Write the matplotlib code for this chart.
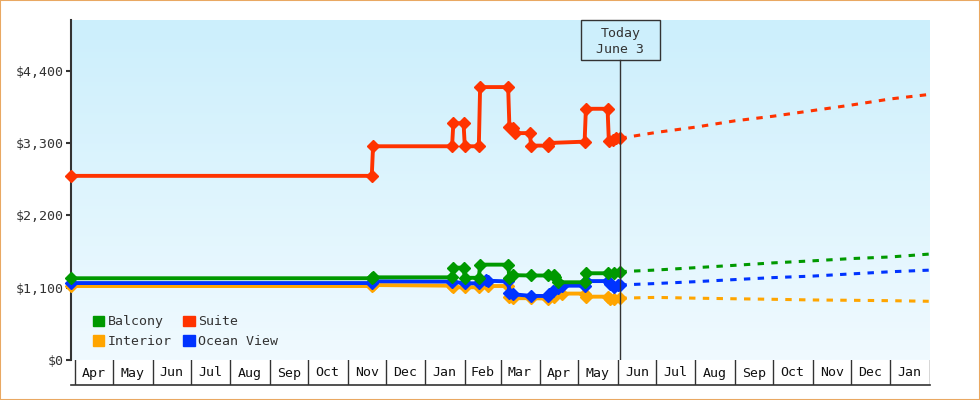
import numpy as np
import matplotlib
matplotlib.use("Agg")
import matplotlib.pyplot as plt
import matplotlib.dates as mdates
from matplotlib.patches import Patch, Rectangle
from matplotlib.transforms import blended_transform_factory

plt.rcParams['font.family'] = ['DejaVu Sans Mono', 'DejaVu Sans']

# --- price history (observed) ---
suite_dates = ['2013-03-29', '2013-11-20', '2013-11-21', '2014-01-22', '2014-01-23', '2014-01-31',
               '2014-02-01', '2014-02-12', '2014-02-13', '2014-03-07', '2014-03-08', '2014-03-11',
               '2014-03-12', '2014-03-24', '2014-03-25', '2014-04-07', '2014-04-08', '2014-05-06',
               '2014-05-07', '2014-05-24', '2014-05-25', '2014-05-28', '2014-05-31', '2014-06-03']
suite_price = [2800, 2800, 3250, 3250, 3600, 3600, 3250, 3250, 4150, 4150, 3540, 3525,
               3450, 3450, 3260, 3260, 3300, 3320, 3820, 3820, 3336, 3345, 3372, 3372]

balcony_dates = ['2013-03-29', '2013-11-20', '2013-11-21', '2014-01-22', '2014-01-23', '2014-01-31',
                 '2014-02-01', '2014-02-12', '2014-02-13', '2014-03-07', '2014-03-08', '2014-03-11',
                 '2014-03-25', '2014-04-07', '2014-04-12', '2014-04-13', '2014-04-15', '2014-05-06',
                 '2014-05-07', '2014-05-24', '2014-05-29', '2014-06-03']
balcony_price = [1243, 1243, 1257, 1257, 1404, 1404, 1250, 1250, 1450, 1450, 1245, 1290,
                 1285, 1285, 1293, 1267, 1182, 1182, 1319, 1319, 1328, 1343]

ocean_dates = ['2013-03-29', '2013-11-20', '2013-11-21', '2014-01-22', '2014-02-01', '2014-02-12',
               '2014-02-18', '2014-02-19', '2014-03-07', '2014-03-08', '2014-03-11', '2014-03-25',
               '2014-04-07', '2014-04-08', '2014-04-11', '2014-04-15', '2014-04-18', '2014-05-06',
               '2014-05-07', '2014-05-24', '2014-05-26', '2014-05-29', '2014-06-01', '2014-06-03']
ocean_price = [1170, 1170, 1197, 1192, 1166, 1166, 1222, 1205, 1195, 1014, 999, 975,
               973, 1004, 1050, 1100, 1130, 1130, 1200, 1200, 1160, 1115, 1141, 1141]

interior_dates = ['2013-03-29', '2013-11-20', '2013-11-21', '2014-01-22', '2014-01-23', '2014-02-01',
                  '2014-02-12', '2014-02-19', '2014-03-07', '2014-03-08', '2014-03-11', '2014-03-25',
                  '2014-04-07', '2014-04-12', '2014-04-18', '2014-05-06', '2014-05-07', '2014-05-24',
                  '2014-05-26', '2014-05-29', '2014-06-03']
interior_price = [1125, 1125, 1140, 1130, 1106, 1106, 1106, 1125, 1125, 963, 940, 940,
                  935, 963, 1010, 1010, 963, 963, 923, 930, 940]

# --- forecast ---
fc_dates = ['2014-06-03', '2014-07-01', '2014-08-01', '2014-09-01', '2014-10-01',
            '2014-11-01', '2014-12-01', '2015-01-01', '2015-01-31']
suite_fc = [3372, 3460, 3541, 3637, 3707, 3793, 3876, 3970, 4037]
balcony_fc = [1343, 1368, 1404, 1440, 1477, 1508, 1542, 1567, 1610]
ocean_fc = [1141, 1163, 1191, 1223, 1253, 1276, 1309, 1342, 1366]
interior_fc = [940, 952, 940, 931, 923, 913, 908, 902, 893]

today = np.datetime64('2014-06-03')
x_start = np.datetime64('2013-03-29')
x_end = np.datetime64('2015-02-01')
y_ticks = [0, 1100, 2200, 3300, 4400]
y_max = 5170

month_starts = np.arange(np.datetime64('2013-04'), np.datetime64('2015-03'), dtype='datetime64[M]')
month_names = ['Jan', 'Feb', 'Mar', 'Apr', 'May', 'Jun', 'Jul', 'Aug', 'Sep', 'Oct', 'Nov', 'Dec']

colors = {'Balcony': '#009900', 'Suite': '#ff3300', 'Interior': '#ffa500', 'Ocean View': '#0033ff'}
dark = '#333333'
fs = 9.5

fig = plt.figure(figsize=(9.8, 4.0), dpi=100)
W, H = 980.0, 400.0
ax = fig.add_axes([71 / W, 40 / H, 859 / W, 340 / H])
axm = fig.add_axes([71 / W, 15 / H, 859 / W, 25 / H], sharex=ax)

# gradient background
grad = np.linspace(0, 1, 256).reshape(-1, 1)
top = np.array([204, 239, 252]) / 255.0
bot = np.array([240, 250, 255]) / 255.0
img = top + (bot - top) * grad[:, :, None]
ax.imshow(img, extent=[0, 1, 0, 1], transform=ax.transAxes, aspect='auto', zorder=0)

series = [
    ('Interior', interior_dates, interior_price, interior_fc),
    ('Ocean View', ocean_dates, ocean_price, ocean_fc),
    ('Balcony', balcony_dates, balcony_price, balcony_fc),
    ('Suite', suite_dates, suite_price, suite_fc),
]
fcd = np.array(fc_dates, dtype='datetime64[D]')
for i, (name, d, p, fc) in enumerate(series):
    c = colors[name]
    ax.plot(np.array(d, dtype='datetime64[D]'), p, color=c, lw=2.8, marker='D', ms=6.3,
            mec=c, mfc=c, zorder=3 + i, clip_on=False, solid_joinstyle='miter')
    ax.plot(fcd, fc, color=c, lw=2.2, linestyle=(0, (2.1, 2.4)), zorder=3 + i)

ax.set_xlim(x_start, x_end)
ax.set_ylim(0, y_max)
ax.set_yticks(y_ticks)
ax.set_yticklabels(['${:,}'.format(v) for v in y_ticks])
ax.tick_params(axis='y', direction='out', length=3.6, width=1.5, color=dark,
               labelsize=fs, labelcolor=dark, pad=1.5)
ax.tick_params(axis='x', bottom=False, labelbottom=False)
for s in ['top', 'right', 'bottom']:
    ax.spines[s].set_visible(False)
ax.spines['left'].set_color(dark)
ax.spines['left'].set_linewidth(1.5)

# today marker
ax.axvline(today, ymin=0, ymax=(300 / 340), color=dark, lw=1, zorder=10)
tr = blended_transform_factory(ax.transData, ax.transAxes)
half = np.timedelta64(31, 'D')
ax.add_patch(Rectangle((mdates.date2num(today - half), 300 / 340),
                       mdates.date2num(today + half) - mdates.date2num(today - half), 40 / 340,
                       transform=tr, fill=False, ec=dark, lw=1, zorder=10, clip_on=False))
ax.text(today, (360 - 41.5) / 340, 'Today\nJune 3', transform=tr, ha='center', va='center',
        fontsize=fs, color=dark, linespacing=1.35, zorder=11)

# legend
handles = [Patch(color=colors[n]) for n in ['Balcony', 'Interior', 'Suite', 'Ocean View']]
ax.legend(handles, ['Balcony', 'Interior', 'Suite', 'Ocean View'], ncol=2, loc='lower left',
          bbox_to_anchor=(22 / 859, 12 / 340), frameon=False, fontsize=fs,
          handlelength=0.85, handleheight=0.85, handletextpad=0.25, columnspacing=0.9,
          labelspacing=0.5, borderpad=0, borderaxespad=0, labelcolor=dark)

# month boxes below the axis
for m in month_starts:
    axm.axvline(m.astype('datetime64[D]'), color=dark, lw=1)
for m0, m1 in zip(month_starts[:-1], month_starts[1:]):
    d0 = m0.astype('datetime64[D]')
    d1 = m1.astype('datetime64[D]')
    mid = d0 + (d1 - d0) / 2
    axm.text(mid, 0.48, month_names[int(m0.astype(int)) % 12], ha='center', va='center',
             fontsize=fs, color='#111111')
axm.set_ylim(0, 1)
axm.set_xlim(x_start, x_end)
for s in ['top', 'left', 'right']:
    axm.spines[s].set_visible(False)
axm.spines['bottom'].set_color(dark)
axm.spines['bottom'].set_linewidth(1.2)
axm.tick_params(bottom=False, left=False, labelbottom=False, labelleft=False)
axm.set_facecolor('none')

fig.add_artist(Rectangle((0, 0), 1, 1, transform=fig.transFigure, fill=False,
                         ec='#e9a862', lw=1.5))

fig.savefig('out.png', dpi=100)
